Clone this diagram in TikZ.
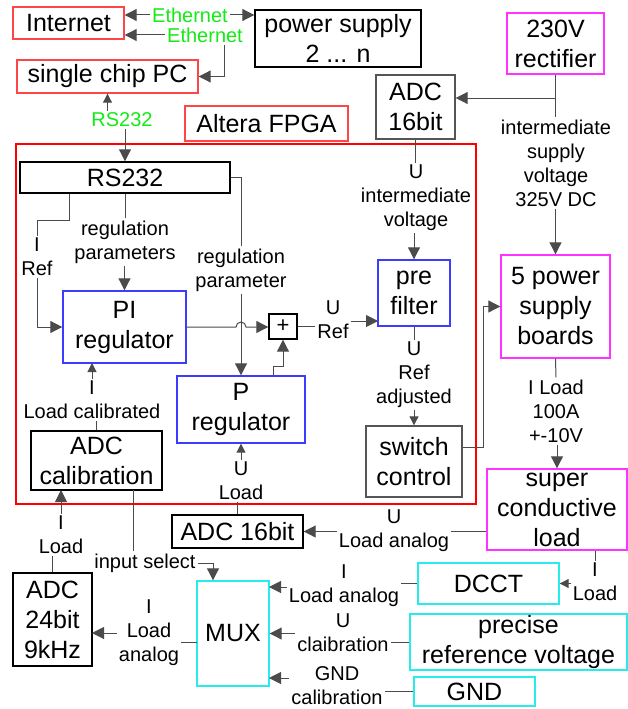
\documentclass[tikz,border=0pt]{standalone}
\usepackage{fontspec}
\setmainfont{Liberation Sans}
\usepackage{xcolor}
\usetikzlibrary{arrows.meta}

\definecolor{boxred}{RGB}{255,70,70}
\definecolor{boxmag}{RGB}{255,50,255}
\definecolor{boxblue}{RGB}{60,60,255}
\definecolor{boxcyan}{RGB}{40,235,235}
\definecolor{ethgreen}{RGB}{20,235,20}
\definecolor{wiregray}{RGB}{75,75,75}
\definecolor{boxgray}{RGB}{85,85,85}

\begin{document}
\begin{tikzpicture}[x=1pt, y=-1pt,
    box/.style={draw, inner sep=0pt, align=center, line width=1.4pt, font=\fontsize{25}{30}\selectfont},
    lbl/.style={inner sep=2pt, align=center, font=\fontsize{20}{24}\selectfont},
    wire/.style={line width=1pt, draw=wiregray},
    tip/.style={wire, -{Triangle[length=12pt, width=12pt]}},
    smalltip/.style={wire, -{Triangle[length=9pt, width=9pt]}}]
    \useasboundingbox (0,0) rectangle (628,709);

    % Outside world
    \node[box, draw=boxred, minimum width=111, minimum height=32] (internet) at (68.5,23) {Internet};
    \node[box, draw=black, minimum width=166, minimum height=57] (psu) at (338,38.5) {power supply\\2 ... n};
    \node[box, draw=boxmag, minimum width=97, minimum height=61] (rect) at (555.5,43.5) {230V\\rectifier};
    \node[box, draw=boxred, minimum width=181, minimum height=33] (pc) at (107.5,76.5) {single chip PC};
    \node[box, draw=boxgray, minimum width=79, minimum height=64] (adcU) at (415.5,107) {ADC\\16bit};
    \node[box, draw=boxred, minimum width=163, minimum height=35] (altera) at (266.5,123.5) {Altera FPGA};

    % FPGA
    \draw[red, line width=2pt] (16,144) rectangle (476,504);
    \node[box, draw=black, minimum width=210, minimum height=31] (rs) at (125,177.5) {RS232};
    \node[box, draw=boxblue, minimum width=123, minimum height=72] (pi) at (124.5,327) {PI\\regulator};
    \node[box, draw=black, minimum width=28, minimum height=25, font=\fontsize{22}{26}\selectfont] (plus) at (283,326.5) {+};
    \node[box, draw=boxblue, minimum width=72, minimum height=66] (pre) at (414,293) {pre\\filter};
    \node[box, draw=boxblue, minimum width=128, minimum height=67] (preg) at (241,409.5) {P\\regulator};
    \node[box, draw=boxgray, minimum width=96, minimum height=71] (sw) at (414,461.5) {switch\\control};
    \node[box, draw=black, minimum width=131, minimum height=59] (adccal) at (96.5,460.5) {ADC\\calibration};

    % Power part and measurement
    \node[box, draw=boxmag, minimum width=109, minimum height=103] (pwr) at (555.5,306.5) {5 power\\supply\\boards};
    \node[box, draw=boxmag, minimum width=140, minimum height=81] (load) at (557,509.5) {super\\conductive\\load};
    \node[box, draw=black, minimum width=131, minimum height=33] (adcL) at (237.5,531.5) {ADC 16bit};
    \node[box, draw=boxcyan, minimum width=141, minimum height=41] (dcct) at (488.5,583.5) {DCCT};
    \node[box, draw=black, minimum width=79, minimum height=93] (adc24) at (52.5,619.5) {ADC\\24bit\\9kHz};
    \node[box, draw=boxcyan, minimum width=72, minimum height=105] (mux) at (233,633.5) {MUX};
    \node[box, draw=boxcyan, minimum width=217, minimum height=56] (prv) at (518.5,642) {precise\\reference voltage};
    \node[box, draw=boxcyan, minimum width=121, minimum height=29] (gnd) at (474.5,691.5) {GND};

    % Labels
    \node[lbl, ethgreen] (eth1) at (190,15) {Ethernet};
    \node[lbl, ethgreen] (eth2) at (205,35) {Ethernet};
    \node[lbl, ethgreen] (rsl) at (122,120) {RS232};
    \node[lbl] (isv) at (556,163) {intermediate\\supply\\voltage\\325V DC};
    \node[lbl] (uiv) at (416,198) {U\\intermediate\\voltage};
    \node[lbl] (iref) at (37,257) {I\\Ref};
    \node[lbl] (rpar) at (125,242) {regulation\\parameters};
    \node[lbl] (rpar2) at (241,270) {regulation\\parameter};
    \node[lbl] (uref) at (333,320) {U\\Ref};
    \node[lbl] (urefadj) at (414,375) {U\\Ref\\adjusted};
    \node[lbl] (iloadcal) at (92,400) {I\\Load calibrated};
    \node[lbl] (uload) at (241,481) {U\\Load};
    \node[lbl] (iload100) at (556,411) {I Load\\100A\\+-10V};
    \node[lbl] (uloadan) at (394,531) {U\\Load analog};
    \node[lbl] (iload) at (595,582) {I\\Load};
    \node[lbl] (iloadan) at (344,586) {I\\Load analog};
    \node[lbl] (ucal) at (343,633) {U\\claibration};
    \node[lbl] (gndcal) at (337,686) {GND\\calibration};
    \node[lbl] (inpsel) at (145,563) {input select};
    \node[lbl] (iload24) at (61,535) {I\\Load};
    \node[lbl] (iloadmux) at (149,633) {I\\Load\\analog};

    % Bends
    \coordinate (ethbend) at (224,76.5);
    \coordinate (rectjoin) at (555.5,98);
    \coordinate (irefbend) at (69,220);
    \coordinate (pjoin) at (273,366);
    \coordinate (prein) at (378,321);
    \coordinate (swbend) at (483,447);
    \coordinate (muxin1) at (269,587);
    \coordinate (muxin3) at (269,678);
    \coordinate (muxout) at (197,642);
    \coordinate (adc24in) at (92,633);
    \coordinate (seltop) at (133,490);
    \coordinate (selbend) at (213,563);
    \coordinate (calin) at (61,490);
    \coordinate (piin) at (92,363);

    % Network
    \draw[tip] (eth1.west) -- (internet.east |- eth1.west);
    \draw[tip] (eth1.east) -- (psu.west |- eth1.east);
    \draw[tip] (eth2.west) -- (internet.east |- eth2.west);
    \draw[tip] (eth2.south -| ethbend) -- (ethbend) -- (pc.east);
    \draw[smalltip] (rsl.north -| pc.south) -- (pc.south);
    \draw[tip] (rsl.south -| rs.north) -- (rs.north);

    % Supply voltage
    \draw[wire] (rect.south) -- (isv.north -| rect.south);
    \draw[tip] (rectjoin) -- (adcU.east |- rectjoin);
    \draw[tip] (isv.south -| pwr.north) -- (pwr.north);
    \draw[wire] (adcU.south) -- (adcU.south |- uiv.north);
    \draw[tip] (uiv.south -| pre.north) -- (pre.north);

    % Regulation
    \draw[wire] (rs.east) -| (rpar2.north);
    \draw[tip] (rpar2.south) -- (preg.north);
    \draw[wire] (rs.south) -- (rpar.north -| rs.south);
    \draw[tip] (rpar.south -| pi.north) -- (pi.north);
    \draw[wire] (rs.south -| irefbend) -- (irefbend) -| (iref.north);
    \draw[tip] (iref.south) |- (pi.west);
    \draw[tip] (pi.east) -- ([xshift=-5pt]preg.north |- pi.east)
        arc[start angle=180, end angle=0, radius=5pt] -- (plus.west |- pi.east);
    \draw[tip] (preg.north -| pjoin) -- (pjoin) -| (plus.south);
    \draw[wire] (plus.east) -- (uref.west |- plus.east);
    \draw[tip] (uref.east |- prein) -- (prein);
    \draw[wire] (pre.south) -- (urefadj.north);
    \draw[smalltip] (urefadj.south) -- (sw.north);
    \draw[tip] (sw.east |- swbend) -- (swbend) |- (pwr.west);

    % Load current
    \draw[wire] (pwr.south) -- (iload100.north);
    \draw[tip] (iload100.south -| load.north) -- (load.north);
    \draw[wire] (load.west |- adcL.east) -- (uloadan.east |- adcL.east);
    \draw[tip] (uloadan.west |- adcL.east) -- (adcL.east);
    \draw[wire] (adcL.north) -- (adcL.north |- uload.south);
    \draw[smalltip] (uload.north -| preg.south) -- (preg.south);
    \draw[wire] (iload.north |- load.south) -- (iload.north);
    \draw[smalltip] (iload.west |- dcct.east) -- (dcct.east);

    % MUX inputs and output
    \draw[wire] (dcct.west) -- (iloadan.east |- dcct.west);
    \draw[tip] (iloadan.west |- muxin1) -- (muxin1);
    \draw[wire] (prv.west) -- (ucal.east |- prv.west);
    \draw[tip] (ucal.west |- mux.east) -- (mux.east);
    \draw[wire] (gnd.west) -- (gndcal.east |- gnd.west);
    \draw[tip] (gndcal.west |- muxin3) -- (muxin3);
    \draw[wire] (muxout) -- (iloadmux.east |- muxout);
    \draw[tip] (iloadmux.west |- adc24in) -- (adc24in);
    \draw[wire] (seltop) -- (seltop |- inpsel.north);
    \draw[tip] (inpsel.east) -| (selbend |- mux.north);

    % Calibration
    \draw[wire] (adc24.north) -- (adc24.north |- iload24.south);
    \draw[tip] (iload24.north -| calin) -- (calin);
    \draw[wire] (adccal.north) -- (adccal.north |- iloadcal.south);
    \draw[smalltip] (iloadcal.north -| piin) -- (piin);
\end{tikzpicture}
\end{document}
